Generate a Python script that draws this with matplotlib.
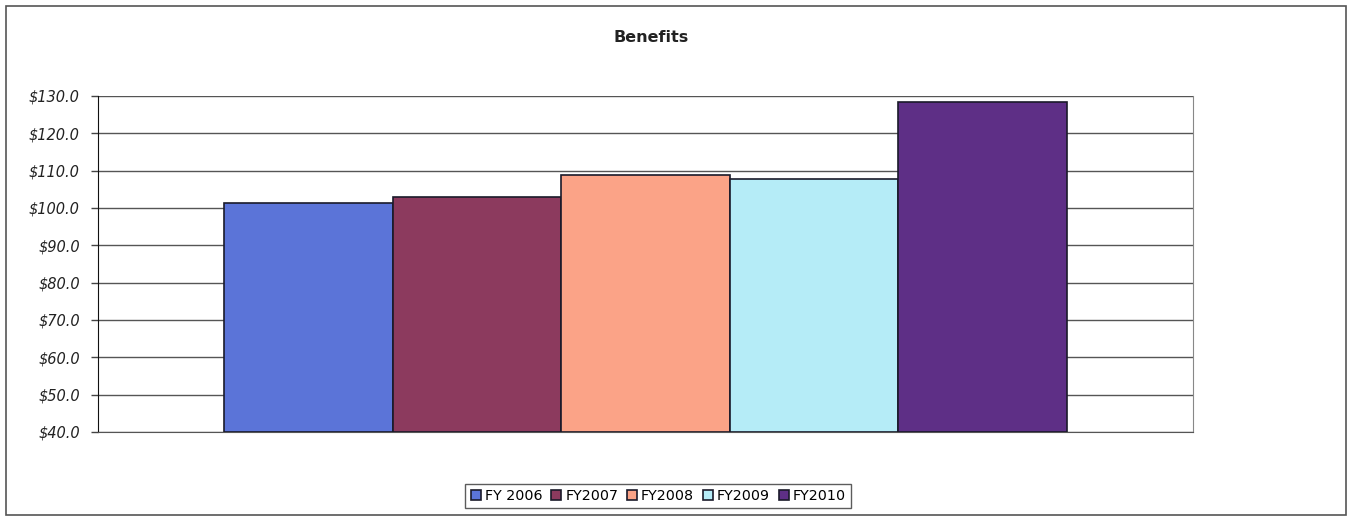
import numpy as np
import matplotlib.pyplot as plt
from matplotlib.patches import Rectangle

# benefits spending per fiscal year, in dollars (millions)
years = ['FY 2006', 'FY2007', 'FY2008', 'FY2009', 'FY2010']
benefits = [101.3, 102.9, 108.8, 107.8, 128.5]
colors = ['#5b74d8', '#8c3a5e', '#fba387', '#b5ecf7', '#5e2f86']
yticks = np.arange(40, 131, 10)

fig = plt.figure(figsize=(13.49, 5.16), dpi=100)
ax = fig.add_axes([0.0726, 0.1628, 0.8118, 0.6512])

# outer chart frame
fig.patches.append(Rectangle((6 / 1349, 0.002), 1340 / 1349, 1 - 6 / 516 - 0.002,
                             transform=fig.transFigure, fill=False,
                             edgecolor='#555555', linewidth=1.2))

# one category, five series side by side
offsets = np.arange(len(years)) - (len(years) - 1) / 2
for off, val, col, lab in zip(offsets, benefits, colors, years):
    ax.bar(off, val - 40, bottom=40, width=1.0, color=col,
           edgecolor='#1a1a2a', linewidth=1.2, label=lab, zorder=3)

ax.set_xlim(-3.25, 3.25)
ax.set_ylim(40, 130)
ax.set_yticks(yticks)
ax.set_yticklabels(['${:.1f}'.format(v) for v in yticks],
                   fontstyle='italic', fontsize=10.5, color='#222222')
ax.set_xticks([])
ax.yaxis.grid(True, color='#555555', linewidth=1.0, zorder=0)
ax.tick_params(axis='y', length=5, width=1, color='#444444', pad=8)

ax.spines['top'].set_visible(False)
ax.spines['left'].set_color('#111111')
ax.spines['right'].set_color('#888888')
ax.spines['bottom'].set_color('#555555')

fig.text(0.483, 0.928, 'Benefits', ha='center', va='center',
         fontsize=11.5, fontweight='bold', color='#222222')

leg = fig.legend(loc='center', bbox_to_anchor=(0.488, 0.038), ncol=5,
                 fontsize=10.3, frameon=True, fancybox=False,
                 handlelength=0.7, handleheight=0.7, handletextpad=0.3,
                 columnspacing=0.6, borderpad=0.35, borderaxespad=0)
leg.get_frame().set_edgecolor('#333333')
leg.get_frame().set_linewidth(1.0)

fig.savefig('out.png', dpi=100)
